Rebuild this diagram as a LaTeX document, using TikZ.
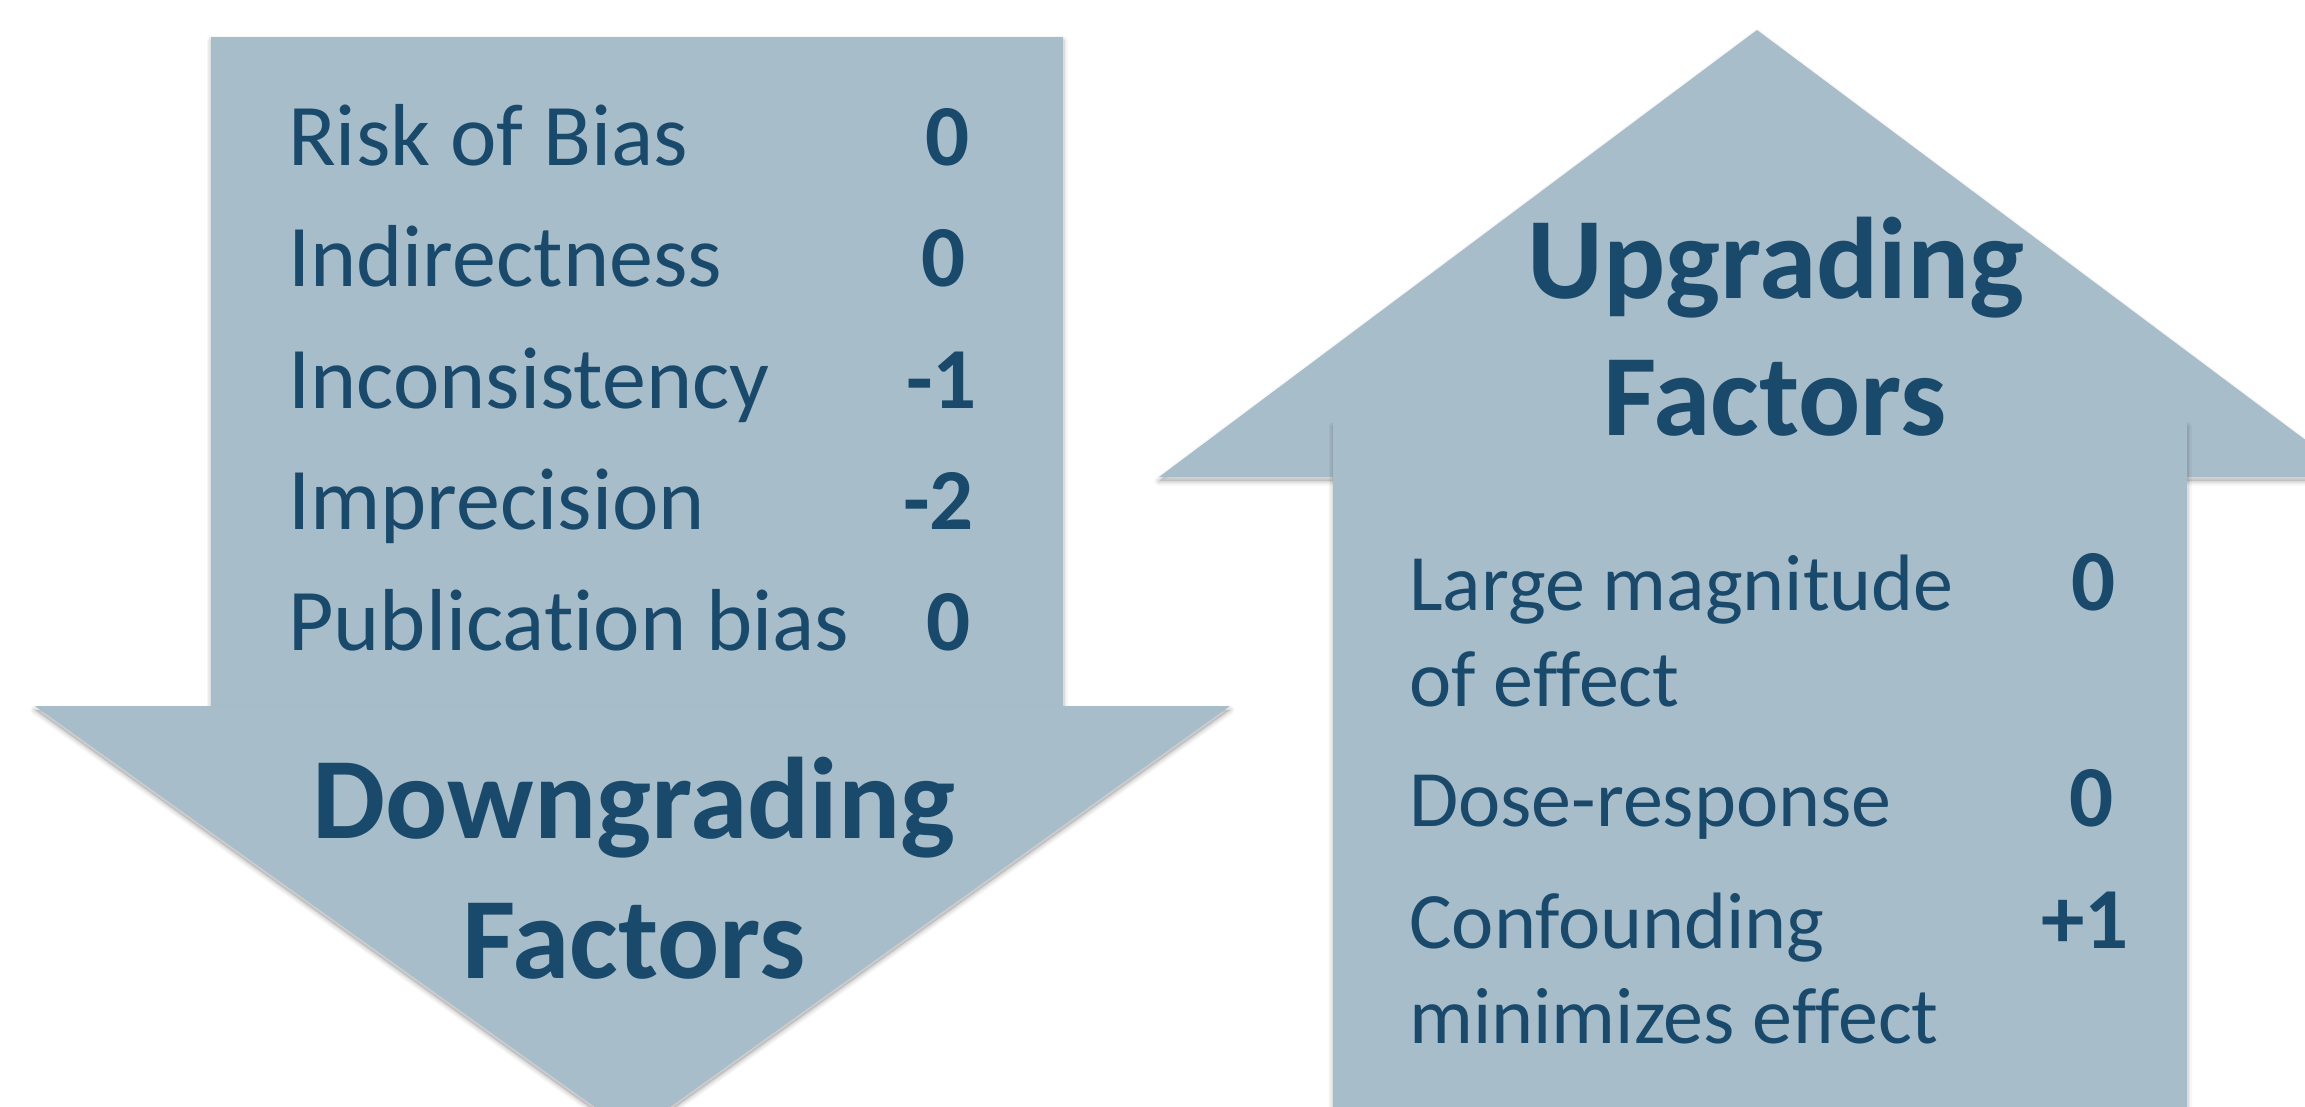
\documentclass[tikz,border=0pt]{standalone}
\usepackage{fontspec}
\setmainfont{Carlito}[Ligatures={NoCommon}]
\definecolor{arrowfill}{HTML}{A8BDCA}
\definecolor{inkblue}{HTML}{1A4A6B}

% a filled shape with a soft drop shadow underneath
\newcommand\shadedshape[1]{%
  \foreach \w/\o in {9/0.035, 6/0.045, 3/0.06}{%
    \filldraw[black, opacity=\o, line width=\w pt, line join=round, shift={(0,4)}] #1;}%
  \fill[arrowfill] #1;}

\begin{document}
\begin{tikzpicture}[x=1pt, y=-1pt,
  item/.style={anchor=base west, inner sep=0pt, text=inkblue,
               font=\fontsize{88}{96}\selectfont},
  score/.style={anchor=base east, inner sep=0pt, text=inkblue,
                font=\fontsize{87}{96}\selectfont\bfseries},
  upitem/.style={item, font=\fontsize{80}{90}\selectfont},
  heading/.style={anchor=base, inner sep=0pt, text=inkblue,
                  font=\fontsize{116}{136}\selectfont\bfseries}]
\useasboundingbox (0,0) rectangle (2305,1107);
\clip (0,0) rectangle (2305,1107);

% downward arrow: shaft, then head
\shadedshape{(211,37) rectangle (1063,730)}
\shadedshape{(35,706) -- (1230,706) -- (632.5,1134) -- cycle}

% upward arrow: head, then shaft
\shadedshape{(1159,477) -- (1757,30) -- (2355,477) -- cycle}
\shadedshape{(1333,422) rectangle (2187,1160)}

% downgrading factors
\node[item]  (rob)    at (288,166) {Risk of Bias};
\node[score] (robv)   at (970,166) {0};
\node[item]  (ind)    at (288,287) {Indirectness};
\node[score] (indv)   at (966,287) {0};
\node[item]  (inc)    at (288,408) {Inconsistency};
\node[score] (incv)   at (977,408) {-1};
\node[item]  (imp)    at (288,529) {Imprecision};
\node[score] (impv)   at (974,529) {-2};
\node[item]  (pub)    at (288,650) {Publication bias};
\node[score] (pubv)   at (971,650) {0};

\node[heading] (down1) at (634,838) {Downgrading};
\node[heading] (down2) at (634,978) {Factors};

% upgrading factors
\node[heading] (up1) at (1776,299) {Upgrading};
\node[heading] (up2) at (1775,435) {Factors};

\node[upitem] (mag1)  at (1409,610) {Large magnitude};
\node[upitem] (mag2)  at (1409,706) {of effect};
\node[score]  (magv)  at (2116,610) {0};
\node[upitem] (dose)  at (1409,826) {Dose-response};
\node[score]  (dosev) at (2114,826) {0};
\node[upitem] (conf1) at (1409,948) {Confounding};
\node[upitem] (conf2) at (1409,1043) {minimizes effect};
\node[score]  (confv) at (2129,948) {+1};
\end{tikzpicture}
\end{document}
